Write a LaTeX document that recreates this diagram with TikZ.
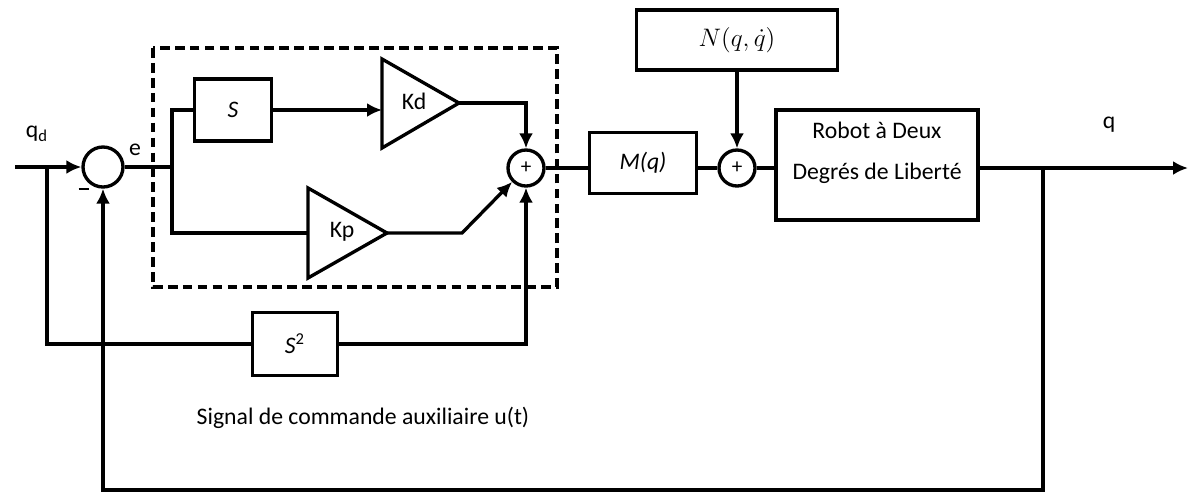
\documentclass[tikz,border=0pt]{standalone}
\usepackage{fontspec}
\setmainfont{Carlito}
\usetikzlibrary{arrows.meta}

\tikzset{
  sig/.style={line width=1.9pt,line join=miter},
  arr/.style={sig,-{Latex[length=3mm,width=2.8mm]}},
  blk/.style={draw,line width=1.9pt,rectangle,inner sep=0pt,font=\fontsize{13.5}{16}\selectfont},
  sumnode/.style={draw,line width=1.9pt,circle,inner sep=0pt,font=\fontsize{12}{13}\selectfont},
  lbl/.style={inner sep=0pt,font=\fontsize{13.5}{16}\selectfont}
}

\begin{document}
\begin{tikzpicture}[x=0.02cm,y=-0.02cm]
  \useasboundingbox (0,0) rectangle (1190,491);

  % summing junctions
  \node[sumnode,minimum size=0.8cm] (sum1) at (103,167) {};
  \node[sumnode,minimum size=0.72cm] (sum2) at (526,168) {+};
  \node[sumnode,minimum size=0.72cm] (sum3) at (737,168) {+};

  % blocks
  \node[blk,minimum width=1.54cm,minimum height=1.24cm] (sblk) at (233,110) {\textit{S}};
  \node[blk,minimum width=1.7cm,minimum height=1.26cm] (s2blk) at (295,344) {\textit{S}\textsuperscript{2}};
  \node[blk,minimum width=2.14cm,minimum height=1.22cm] (mblk) at (643,163) {\textit{M(q)}};
  \node[blk,minimum width=4.02cm,minimum height=1.2cm] (nblk) at (737,40) {\Large$N(q,\dot{q})$};
  \node[blk,minimum width=4.04cm,minimum height=2.2cm] (robot) at (877,165) {};
  \node[lbl,align=center,font=\fontsize{13.5}{23}\selectfont] (robottxt) at (877,153) {Robot à Deux\\Degrés de Liberté};

  % gains
  \coordinate (kdin) at (382,110);
  \coordinate (kdout) at (459,103);
  \path[draw,sig] (382,59) -- (kdout) -- (382,148) -- cycle;
  \node[lbl] (kd) at (414,101) {Kd};
  \coordinate (kpin) at (308,233);
  \coordinate (kpout) at (387,233);
  \path[draw,sig] (308,188) -- (kpout) -- (308,278) -- cycle;
  \node[lbl] (kp) at (342,232) {Kp};

  % PD controller frame
  \path[draw,line width=1.9pt,dash pattern=on 5.5pt off 3pt] (153,48) rectangle (557,287);

  % signals
  \coordinate (qdin) at (15,167);
  \coordinate (b1) at (47,167);
  \coordinate (b2) at (172,167);
  \coordinate (b3) at (1043,168);
  \coordinate (qout) at (1188,168);
  \draw[arr] (qdin) -- (sum1);
  \draw[sig] (sum1) -- (b2);
  \draw[sig] (b2) |- (sblk);
  \draw[arr] (sblk) -- (kdin);
  \draw[arr] (kdout) -| (sum2.north);
  \draw[sig] (b2) |- (kpin);
  \draw[arr] (kpout) -- (462,233) -- (sum2.south west);
  \draw[sig] (b1) |- (s2blk);
  \draw[arr] (s2blk) -| (sum2.south);
  \draw[sig] (sum2) -- (sum2 -| mblk.west);
  \draw[sig] (mblk.east |- sum3) -- (sum3);
  \draw[arr] (nblk) -- (sum3);
  \draw[sig] (sum3) -- (sum3 -| robot.west);
  \draw[arr] (robot.east |- qout) -- (qout);
  \draw[arr] (b3) -- ++(0,322) -| (sum1.south);

  % labels
  \node[lbl] (qdlbl) at (37,134) {q\textsubscript{d}};
  \node[lbl] (elbl) at (135,150) {e};
  \node[lbl] (minus) at (84,189) {\rule{0.22cm}{0.9pt}};
  \node[lbl] (qlbl) at (1109,125) {q};
  \node[lbl] (sig) at (363,418) {Signal de commande auxiliaire u(t)};
\end{tikzpicture}
\end{document}
